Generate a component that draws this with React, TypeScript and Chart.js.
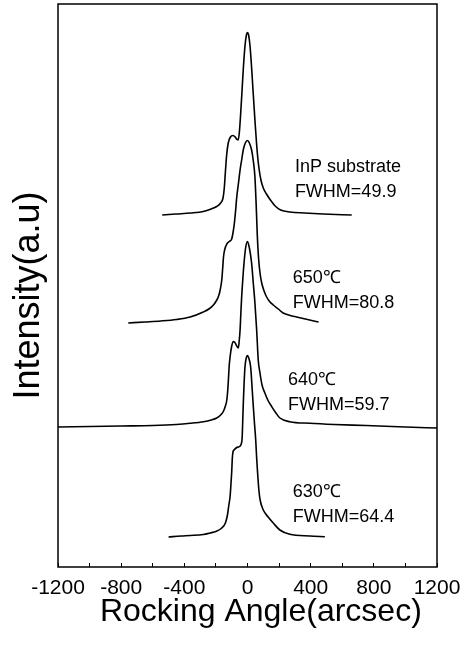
import React, { useEffect, useRef } from 'react';
import { Chart, registerables } from 'chart.js';

Chart.register(...registerables);

// Rocking angle (arcsec) and intensity (a.u., curves already offset as plotted)
const inpX = [-540,-450,-360,-280,-230,-195,-170,-155,-147,-140,-132,-122,-108,-92,-78,-66,-59,-52,-45,-37,-27,-16,-7,0,7,16,27,36,47,58,70,85,100,120,145,175,210,270,360,480,660];
const inpY = [352,353,354,355.5,358,360.5,364,369,379,395,412,424,430,431.5,430,427.5,427,434,449,470,497,521,532,534.5,532,521,497,474,447,422,402,387,379,373,367,361,357,355,354,353,352];

const t650X = [-755,-650,-550,-450,-363,-280,-240,-216,-198,-184,-173,-163,-157,-152,-145,-131,-115,-100,-90,-83,-75,-68,-57,-47,-37,-27,-14,0,12,26,36,47,55,62,70,80,90,105,121,140,163,195,226,270,311,380,450];
const t650Y = [244,245,246,247.5,250,255,258.5,262,266,270.5,277,287,299,310,317,323,325.5,328,336,344,357,370,384,397,407,417,424,426.5,424,417,407,390,362,332,309,293,284,276,270,265.5,262,258,254,251.5,250,247.5,245];

const t640X = [-1200,-1000,-800,-600,-450,-363,-279,-230,-195,-170,-153,-140,-131,-125,-121,-116,-110,-100,-90,-80,-68,-58,-52,-47,-42,-37,-30,-22,-12,0,12,26,36,47,58,68,79,92,110,130,153,180,205,268,395,550,750,1000,1200];
const t640Y = [140,140.5,141,141.5,142.5,143.7,145.3,147,149,152,155.5,161,167,177,187,201,210.5,221,225.5,224.5,221,219,227,237,254,270,287,304,319,325.5,319,304,285,264,237,207,194,182,174,166.5,160.5,154,149,145.3,143.7,142.5,141.5,140,139];

const t630X = [-500,-420,-363,-280,-237,-200,-163,-140,-127,-118,-110,-104,-100,-96,-92,-85,-68,-50,-40,-34,-30,-27,-22,-16,-8,0,8,20,30,37,45,52,58,64,72,80,100,131,163,205,268,395,490];
const t630Y = [30,31,31.5,32.5,34,35.5,39,44,52,62,71,85,95,109,115,117,119.5,120.5,123,129,147,162,182,200,209,211.5,209,200,177,160,142,127,109,94,77,67,57,50,44,37,32.7,31,30.3];

const seriesNames = ['InP substrate', '650℃', '640℃', '630℃'];
const fwhmLabels = ['FWHM=49.9', 'FWHM=80.8', 'FWHM=59.7', 'FWHM=64.4'];
const majorTicks = [-1200, -800, -400, 0, 400, 800, 1200];
const xTickLabels = ['-1200', '-800', '-400', '0', '400', '800', '1200'];

// label anchors in data units (arcsec, a.u.)
const labelAnchorX = [300, 287, 256, 287];
const labelAnchorY = [395, 284, 182, 70];
const labelLineGap = 25;

const FONT = '"Liberation Sans", Arial, Helvetica, sans-serif';

function pts(xs: number[], ys: number[]) {
  return xs.map((x, i) => ({ x, y: ys[i] }));
}

const annotationPlugin = {
  id: 'frameAndLabels',
  afterDraw(chart: any) {
    const { ctx, chartArea: a, scales } = chart;
    ctx.save();
    ctx.strokeStyle = '#000';
    ctx.lineWidth = 1.5;
    ctx.strokeRect(a.left, a.top, a.right - a.left, a.bottom - a.top);
    ctx.fillStyle = '#000';
    ctx.font = `18px ${FONT}`;
    ctx.textAlign = 'left';
    ctx.textBaseline = 'alphabetic';
    seriesNames.forEach((name, i) => {
      const px = scales.x.getPixelForValue(labelAnchorX[i]);
      const py = scales.y.getPixelForValue(labelAnchorY[i]);
      ctx.fillText(name, px, py);
      ctx.fillText(fwhmLabels[i], px, py + labelLineGap);
    });
    ctx.restore();
  },
};

export default function App() {
  const ref = useRef<HTMLCanvasElement | null>(null);
  useEffect(() => {
    document.body.style.margin = '0';
    const canvas = ref.current!;
    const lineStyle = {
      borderColor: '#000',
      borderWidth: 1.6,
      pointRadius: 0,
      fill: false,
      cubicInterpolationMode: 'monotone' as const,
    };
    const chart = new Chart(canvas, {
      type: 'line',
      data: {
        datasets: [
          { label: seriesNames[0], data: pts(inpX, inpY), ...lineStyle },
          { label: seriesNames[1], data: pts(t650X, t650Y), ...lineStyle },
          { label: seriesNames[2], data: pts(t640X, t640Y), ...lineStyle },
          { label: seriesNames[3], data: pts(t630X, t630Y), ...lineStyle },
        ],
      },
      options: {
        animation: false,
        responsive: false,
        layout: { padding: { top: 4, right: 23, bottom: 0, left: 0 } },
        plugins: { legend: { display: false }, tooltip: { enabled: false } },
        scales: {
          x: {
            type: 'linear',
            position: 'bottom',
            min: -1200,
            max: 1200,
            afterFit: (s: any) => { s.height = 79; s.paddingLeft = 0; s.paddingRight = 0; },
            ticks: {
              stepSize: 200,
              autoSkip: false,
              maxRotation: 0,
              padding: 13,
              color: '#000',
              font: { family: FONT, size: 21 },
              callback: (v: any) => {
                const idx = majorTicks.indexOf(Number(v));
                return idx >= 0 ? xTickLabels[idx] : '';
              },
            },
            grid: { drawOnChartArea: false, drawTicks: true, tickLength: -4, tickColor: '#000', tickWidth: 1 },
            border: { display: false },
            title: {
              display: true,
              text: '   Rocking Angle(arcsec)',
              color: '#000',
              font: { family: FONT, size: 32 },
              padding: { top: 0, bottom: 15 },
            },
          },
          y: {
            type: 'linear',
            min: 0,
            max: 563,
            afterFit: (s: any) => { s.width = 58; },
            ticks: { display: false },
            grid: { display: false },
            border: { display: false },
            title: {
              display: true,
              text: 'Intensity(a.u)  ',
              color: '#000',
              font: { family: FONT, size: 36 },
              padding: { top: 7, bottom: 0 },
            },
          },
        },
      },
      plugins: [annotationPlugin],
    });
    return () => chart.destroy();
  }, []);
  return (
    <div style={{ width: 460, height: 646 }}>
      <canvas ref={ref} width={460} height={646} />
    </div>
  );
}
